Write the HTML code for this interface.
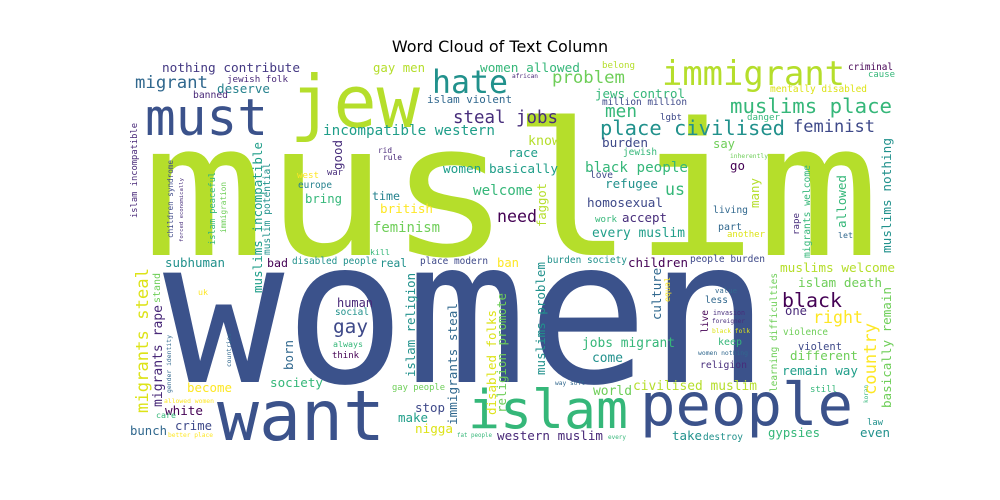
<!DOCTYPE html>
<html><head><meta charset="utf-8"><style>
html,body{margin:0;padding:0;background:#fff;}
svg{display:block;}
.title{font-family:"DejaVu Sans","Liberation Sans",sans-serif;}
#cloud text{font-family:"DejaVu Sans Mono","Liberation Mono",monospace;}
</style></head><body>
<svg width="1000" height="500" viewBox="0 0 1000 500" xmlns="http://www.w3.org/2000/svg">
<text class="title" x="500" y="52" text-anchor="middle" font-size="16" fill="#000">Word Cloud of Text Column</text>
<g id="cloud"></g>
</svg>
<script>
const C={p:"#440154",p2:"#482878",p3:"#472d7b",pb:"#443983",b:"#3e4989",db:"#3b528b",b2:"#31688e",t:"#21918c",t2:"#26828e",g:"#1f9e89",gr:"#35b779",lg:"#6ece58",yg:"#b5de2b",y2:"#dde318",y:"#fde725"};
// [word, x, baselineY, length, color, rotated, optional fontSize]
const words=[
["muslim",142,255,738,C.yg,0,185],
["women",163,382,607,C.db,0,200],
["want",217,440,168,C.db,0],
["islam",468,428,160,C.gr,0],
["people",640,425,213,C.db,0],
["jew",290,127,130,C.yg,0],
["must",145,135,123,C.db,0],
["hate",432,93,76,C.t,0],
["immigrant",662,85,183,C.yg,0],
["muslims place",730,113,162,C.gr,0],
["place civilised",600,135,185,C.t,0],
["steal jobs",453,123,105,C.p3,0],
["problem",552,83,73,C.lg,0],
["women allowed",480,72,100,C.gr,0],
["gay men",373,72,52,C.yg,0],
["islam violent",427,103,85,C.b2,0],
["jews control",595,98,90,C.gr,0],
["million million",602,105,85,C.b,0],
["incompatible western",323,135,172,C.g,0],
["nothing contribute",162,72,138,C.pb,0],
["migrant",135,88,73,C.b2,0],
["deserve",217,93,53,C.t2,0],
["jewish folk",227,82,61,C.p2,0],
["feminist",793,132,82,C.b,0],
["men",605,117,32,C.gr,0],
["burden",602,147,46,C.b,0],
["say",713,148,22,C.lg,0],
["know",528,145,32,C.yg,0],
["race",508,157,30,C.g,0],
["black people",585,172,103,C.gr,0],
["go",730,170,15,C.p,0],
["us",665,195,20,C.gr,0],
["refugee",605,188,53,C.t,0],
["homosexual",587,207,76,C.b,0],
["accept",622,222,45,C.p3,0],
["work",595,222,22,C.gr,0],
["every muslim",592,237,93,C.g,0],
["love",590,178,23,C.b,0],
["jewish",623,155,34,C.gr,0],
["lgbt",660,120,22,C.b,0],
["belong",602,68,33,C.yg,0],
["african",512,78,26,C.p2,0],
["danger",747,120,33,C.gr,0],
["mentally disabled",770,92,97,C.y2,0],
["criminal",848,70,45,C.p,0],
["cause",868,77,27,C.gr,0],
["living",713,213,35,C.b2,0],
["part",718,230,24,C.b2,0],
["another",727,237,38,C.y2,0],
["let",838,238,15,C.b2,0],
["inherently",730,158,38,C.lg,0],
["women basically",443,173,115,C.g,0],
["welcome",473,195,60,C.gr,0],
["need",497,222,40,C.p,0],
["time",372,200,28,C.t2,0],
["bring",305,203,37,C.gr,0],
["british",380,213,53,C.y,0],
["feminism",373,232,67,C.lg,0],
["europe",298,188,34,C.t2,0],
["west",297,178,22,C.y,0],
["war",327,175,16,C.p3,0],
["rid",378,153,14,C.p2,0],
["rule",383,160,19,C.p2,0],
["banned",193,98,35,C.p2,0],
["kill",370,255,20,C.gr,0],
["subhuman",165,267,60,C.t,0],
["bad",267,267,21,C.p,0],
["disabled people",292,264,85,C.t,0],
["real",380,267,27,C.t,0],
["place modern",420,264,68,C.b,0],
["ban",497,267,22,C.y,0],
["burden society",547,263,80,C.t,0],
["children",628,267,60,C.p,0],
["people burden",690,262,75,C.b,0],
["muslims welcome",780,272,115,C.yg,0],
["islam death",798,287,84,C.lg,0],
["black",782,307,60,C.p,0],
["one",785,315,22,C.p2,0],
["right",813,323,50,C.y,0],
["violence",783,335,45,C.lg,0],
["violent",798,350,44,C.b,0],
["different",790,360,68,C.lg,0],
["remain way",782,375,76,C.g,0],
["still",810,392,27,C.gr,0],
["gypsies",768,437,52,C.gr,0],
["even",860,437,30,C.t,0],
["law",867,425,16,C.t,0],
["take",672,440,30,C.t,0],
["destroy",703,440,40,C.t,0],
["civilised muslim",633,390,124,C.yg,0],
["world",593,395,39,C.lg,0],
["come",592,362,31,C.t,0],
["jobs migrant",582,347,93,C.gr,0],
["religion",700,368,47,C.p3,0],
["keep",718,345,24,C.gr,0],
["less",705,303,23,C.b2,0],
["value",715,293,22,C.b2,0],
["invasion",713,315,32,C.p3,0],
["foreigner",712,323,33,C.p3,0],
["black folk",712,333,38,C.y2,0],
["women nothing",698,355,50,C.b2,0],
["western muslim",497,440,106,C.p2,0],
["nigga",415,433,38,C.y2,0],
["make",398,422,30,C.g,0],
["stop",415,412,30,C.b,0],
["gay people",392,390,53,C.lg,0],
["way soft",555,385,30,C.b2,0],
["fat people",457,437,35,C.gr,0],
["every",608,439,18,C.gr,0],
["society",270,387,53,C.gr,0],
["become",187,392,45,C.y,0],
["white",165,415,38,C.p,0],
["crime",175,430,37,C.b,0],
["bunch",130,435,37,C.b2,0],
["care",156,418,20,C.gr,0],
["better place",168,437,45,C.y,0],
["allowed women",164,403,50,C.y,0],
["uk",198,295,10,C.y,0],
["human",337,307,36,C.p2,0],
["social",335,315,34,C.t,0],
["gay",333,333,35,C.b,0],
["always",333,347,30,C.gr,0],
["think",332,358,27,C.p,0],
["migrants steal",148,413,145,C.y2,1],
["migrants rape",162,407,102,C.p2,1],
["stand",160,303,30,C.lg,1],
["children syndrome",173,238,78,C.b,1],
["islam incompatible",137,218,95,C.p2,1],
["forced economically",183,242,64,C.p3,1],
["islam peaceful",215,245,73,C.gr,1],
["immigration",226,233,51,C.lg,1],
["muslims incompatible",262,293,151,C.g,1],
["muslim potential",270,255,92,C.t,1],
["good",342,170,30,C.p3,1],
["gender identity",171,393,58,C.b2,1],
["countries",231,367,34,C.b2,1],
["born",293,370,30,C.b2,1],
["islam religion",415,377,104,C.t,1],
["immigrants steal",457,425,122,C.b2,1],
["disabled folks",496,415,105,C.y2,1],
["religion promote",506,413,120,C.lg,1],
["faggot",546,227,44,C.yg,1],
["muslims problem",545,375,113,C.t,1],
["culture",661,320,52,C.b2,1],
["equal",670,302,25,C.y,1],
["live",708,333,23,C.p,1],
["many",759,208,30,C.yg,1],
["learning difficulties",777,392,119,C.lg,1],
["koran",868,403,18,C.gr,1],
["rape",799,235,22,C.p3,1],
["migrants welcome",810,258,93,C.gr,1],
["allowed",846,228,53,C.gr,1],
["muslims nothing",891,253,115,C.t,1],
["country",876,395,72,C.y,1],
["basically remain",891,408,121,C.lg,1]
];
const g=document.getElementById('cloud');
const NS="http://www.w3.org/2000/svg";
words.forEach(w=>{
  const t=document.createElementNS(NS,'text');
  const fs=w[6]||w[3]/(0.602*w[0].length);
  t.setAttribute('x',w[1]);t.setAttribute('y',w[2]);
  t.setAttribute('font-size',fs.toFixed(1));
  t.setAttribute('textLength',w[3]);
  t.setAttribute('lengthAdjust','spacingAndGlyphs');
  t.setAttribute('fill',w[4]);
  if(w[5]) t.setAttribute('transform','rotate(-90 '+w[1]+' '+w[2]+')');
  t.textContent=w[0];
  
  
  g.appendChild(t);
});
</script>
</body></html>
